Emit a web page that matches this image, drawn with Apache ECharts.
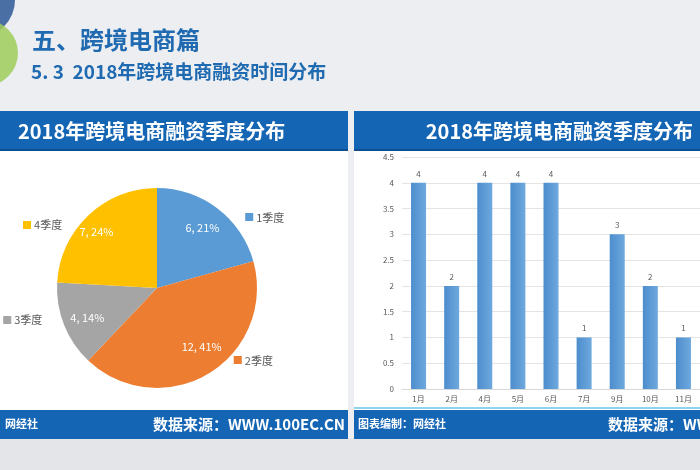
<!DOCTYPE html>
<html><head><meta charset="utf-8">
<script src="https://cdn.jsdelivr.net/npm/echarts@6/dist/echarts.min.js"></script>
<style>html,body{margin:0;padding:0;background:#eceef1;overflow:hidden}#c{width:700px;height:470px}</style>
</head><body><div id="c"></div>
<script>
// ---- data ----
const quarterNames = ['1季度', '2季度', '3季度', '4季度'];
const quarterValues = [6, 12, 4, 7];
const quarterColors = ['#5b9bd5', '#ed7d31', '#a5a5a5', '#ffc000'];
const monthNames = ['1月', '2月', '4月', '5月', '6月', '7月', '9月', '10月', '11月'];
const monthValues = [4, 2, 4, 4, 4, 1, 3, 2, 1];
const yTicks = {min: 0, max: 4.5, interval: 0.5};
const pageTitle = '五、跨境电商篇';
const pageSubtitle = '5. 3  2018年跨境电商融资时间分布';
const panelTitle = '2018年跨境电商融资季度分布';

const FONT = '"Noto Sans CJK SC", "Noto Sans", sans-serif';
const BLUE = '#1465b4';
const pieData = quarterNames.map((n, i) => ({name: n, value: quarterValues[i], itemStyle: {color: quarterColors[i]}}));
const rich = {n: {color: '#595959', fontSize: 11, fontFamily: FONT, padding: [0, 0, 0, 2]}};
quarterColors.forEach((c, i) => { rich['s' + i] = {color: c, fontSize: 10, fontFamily: FONT}; });
// label nudges (styling only)
const nameLabelShift = [[12, 22], [11, -27], [-2, -11], [-10, 21]];
const valueLabelShift = [[0, 0], [6, -5], [0, 2], [-9, -2]];

const chart = echarts.init(document.getElementById('c'));
chart.setOption({
  backgroundColor: '#eceef1',
  animation: false,
  graphic: [
    {type: 'rect', shape: {x: 0, y: 438, width: 700, height: 32}, style: {fill: '#e4e5e8'}, z: -10},
    {type: 'circle', shape: {cx: -22, cy: 0, r: 37}, style: {fill: '#4a6fa5'}, z: -5},
    {type: 'circle', shape: {cx: -15, cy: 53, r: 33}, style: {fill: 'rgba(160,204,90,0.85)'}, z: -4},
    {type: 'text', x: 32, y: 40, style: {text: pageTitle, font: 'bold 24px ' + FONT, fill: '#1f6ab0', verticalAlign: 'middle'}},
    {type: 'text', x: 31, y: 72, style: {text: pageSubtitle, font: 'bold 19px ' + FONT, fill: '#1f6ab0', verticalAlign: 'middle'}},
    // left panel
    {type: 'rect', shape: {x: 0, y: 150, width: 348, height: 260}, style: {fill: '#ffffff'}, z: -3},
    {type: 'rect', shape: {x: 0, y: 111, width: 348, height: 40}, style: {fill: BLUE}, z: -2},
    {type: 'rect', shape: {x: 0, y: 149, width: 348, height: 2}, style: {fill: '#0d4f91'}, z: -2},
    {type: 'text', x: 18, y: 131, style: {text: panelTitle, font: 'bold 20px ' + FONT, fill: '#ffffff', verticalAlign: 'middle'}},
    {type: 'rect', shape: {x: 0, y: 410, width: 348, height: 29}, style: {fill: BLUE}, z: -2},
    {type: 'text', x: 5, y: 424, style: {text: '网经社', font: 'bold 11px ' + FONT, fill: '#ffffff', verticalAlign: 'middle'}},
    {type: 'text', x: 345, y: 424, style: {text: '数据来源：WWW.100EC.CN', font: 'bold 15px ' + FONT, fill: '#ffffff', verticalAlign: 'middle', align: 'right'}},
    // right panel
    {type: 'rect', shape: {x: 354, y: 150, width: 346, height: 260}, style: {fill: '#ffffff'}, z: -3},
    {type: 'rect', shape: {x: 354, y: 111, width: 346, height: 40}, style: {fill: BLUE}, z: -2},
    {type: 'rect', shape: {x: 354, y: 149, width: 346, height: 2}, style: {fill: '#0d4f91'}, z: -2},
    {type: 'text', x: 693, y: 131, style: {text: panelTitle, font: 'bold 20px ' + FONT, fill: '#ffffff', verticalAlign: 'middle', align: 'right'}},
    {type: 'rect', shape: {x: 354, y: 407, width: 346, height: 2}, style: {fill: '#8fd3ef'}, z: -2},
    {type: 'rect', shape: {x: 354, y: 410, width: 346, height: 29}, style: {fill: BLUE}, z: -2},
    {type: 'text', x: 358, y: 424, style: {text: '图表编制：网经社', font: 'bold 11px ' + FONT, fill: '#ffffff', verticalAlign: 'middle'}},
    {type: 'text', x: 608, y: 424, style: {text: '数据来源：WWW.100EC.CN', font: 'bold 15px ' + FONT, fill: '#ffffff', verticalAlign: 'middle'}}
  ],
  grid: {left: 402, right: 0, top: 157, bottom: 81},
  xAxis: {
    type: 'category', data: monthNames,
    axisLine: {lineStyle: {color: '#d9d9d9'}}, axisTick: {show: false},
    axisLabel: {color: '#595959', fontSize: 8, fontFamily: FONT, margin: 6}
  },
  yAxis: {
    type: 'value', min: yTicks.min, max: yTicks.max, interval: yTicks.interval,
    axisLine: {show: false}, axisTick: {show: false},
    splitLine: {lineStyle: {color: '#e4e4e4'}},
    axisLabel: {color: '#595959', fontSize: 8, fontFamily: FONT, margin: 8}
  },
  series: [
    {
      type: 'bar', data: monthValues, barWidth: 15,
      itemStyle: {color: new echarts.graphic.LinearGradient(0, 0, 1, 0, [{offset: 0, color: '#4d8dcd'}, {offset: 1, color: '#6ea9de'}])},
      label: {show: true, position: 'top', distance: 5, color: '#595959', fontSize: 8, fontFamily: FONT}
    },
    {
      type: 'pie', center: [157, 288], radius: [0, 100], startAngle: 90, clockwise: true,
      data: pieData, silent: true,
      label: {
        show: true, position: 'outside', overflow: 'none',
        formatter: p => `{s${p.dataIndex}|■}{n|${p.name}}`, rich: rich
      },
      labelLine: {show: false, length: 16, length2: 0},
      labelLayout: p => ({dx: nameLabelShift[p.dataIndex][0], dy: nameLabelShift[p.dataIndex][1], hideOverlap: false}),
      emphasis: {disabled: true}
    },
    {
      type: 'pie', center: [157, 288], radius: [44, 100], startAngle: 90, clockwise: true,
      data: pieData.map(d => ({name: d.name, value: d.value})), silent: true,
      itemStyle: {color: 'rgba(0,0,0,0)'},
      label: {
        show: true, position: 'inside', color: '#ffffff', fontSize: 11, fontFamily: FONT,
        formatter: p => `${p.value}, ${Math.round(p.percent)}%`
      },
      labelLayout: p => ({dx: valueLabelShift[p.dataIndex][0], dy: valueLabelShift[p.dataIndex][1]}),
      emphasis: {disabled: true}
    }
  ]
});
</script></body></html>
